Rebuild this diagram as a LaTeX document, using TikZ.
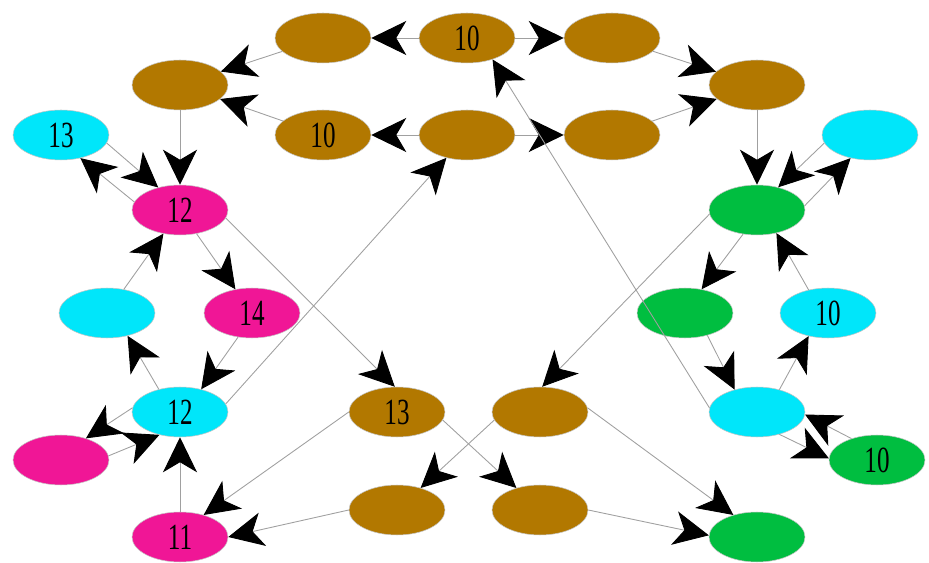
\documentclass[tikz,border=0pt]{standalone}
\usepackage{fontspec}
\setmainfont{Liberation Serif}
\usetikzlibrary{arrows.meta,shapes.geometric}
\definecolor{nbrown}{RGB}{178,120,0}
\definecolor{ncyan}{RGB}{0,230,250}
\definecolor{npink}{RGB}{240,22,150}
\definecolor{ngreen}{RGB}{0,190,64}
\definecolor{edgegray}{RGB}{160,160,160}
\newcommand{\lbl}[1]{\scalebox{0.68}[1]{#1}}
\tikzset{
  blob/.style={ellipse,minimum width=1.92cm,minimum height=1cm,inner sep=0pt,
    draw=gray!45,line width=0.3pt,font=\fontsize{21}{22}\selectfont},
  bn/.style={blob,fill=nbrown},
  cn/.style={blob,fill=ncyan},
  pn/.style={blob,fill=npink},
  gn/.style={blob,fill=ngreen},
  link/.style={draw=edgegray,line width=0.5pt,
    -{Stealth[length=7mm,width=6.8mm,inset=2mm,color=black,fill=black]}}
}
\begin{document}
\begin{tikzpicture}[x=0.02cm,y=-0.02cm]
\useasboundingbox (0,0) rectangle (929,563);
% upper brown ring
\node[bn] (t1) at (323,38) {};
\node[bn] (t2) at (467,38) {\lbl{10}};
\node[bn] (t3) at (612,38) {};
\node[bn] (l)  at (180,85) {};
\node[bn] (r)  at (757,85) {};
\node[bn] (m1) at (323,135) {\lbl{10}};
\node[bn] (m2) at (467,135) {};
\node[bn] (m3) at (612,135) {};
% left cluster
\node[cn] (cy13) at (61,135) {\lbl{13}};
\node[pn] (pk12) at (180,210) {\lbl{12}};
\node[cn] (cyl)  at (107,313) {};
\node[pn] (pk14) at (252,313) {\lbl{14}};
\node[cn] (cy12) at (180,412) {\lbl{12}};
\node[pn] (pkb)  at (61,460) {};
\node[pn] (pk11) at (180,537) {\lbl{11}};
% right cluster
\node[cn] (cyrt) at (870,135) {};
\node[gn] (gu)   at (757,210) {};
\node[gn] (gl)   at (685,313) {};
\node[cn] (cy10) at (828,313) {\lbl{10}};
\node[cn] (cyr)  at (757,412) {};
\node[gn] (gr10) at (877,460) {\lbl{10}};
\node[gn] (gb)   at (757,537) {};
% lower brown nodes
\node[bn] (br13) at (397,412) {\lbl{13}};
\node[bn] (brm)  at (540,412) {};
\node[bn] (bb1)  at (397,510) {};
\node[bn] (bb2)  at (540,510) {};

% upper ring edges
\draw[link] (t2) -- (t1);
\draw[link] (t2) -- (t3);
\draw[link] (t1) -- (l);
\draw[link] (t3) -- (r);
\draw[link] (m1) -- (l);
\draw[link] (m2) -- (m1);
\draw[link] (m2) -- (m3);
\draw[link] (m3) -- (r);
\draw[link] (l) -- (pk12);
\draw[link] (r) -- (gu);
% left cluster edges
\draw[link] (cy13.-10) -- (pk12.134);
\draw[link] (pk12.170) -- (cy13.-50);
\draw[link] (pk12) -- (pk14);
\draw[link] (cyl) -- (pk12.-125);
\draw[link] (pk12.-10) -- (br13.95);
\draw[link] (cy12.133) -- (cyl.-48);
\draw[link] (pk14.-120) -- (cy12.47);
\draw[link] (cy12.10) -- (m2.-132);
\draw[link] (cy12.175) -- (pkb.41);
\draw[link] (pkb.5) -- (cy12.-132);
\draw[link] (pk11) -- (cy12);
\draw[link] (br13.west) -- (pk11.43);
\draw[link] (bb1.west) -- (pk11.east);
% middle crossings
\draw[link] (br13.-10) -- (bb2.137);
\draw[link] (brm.190) -- (bb1.43);
\draw[link] (gu.185) -- (brm.85);
\draw[link] (brm.5) -- (gb.137);
\draw[link] (bb2.east) -- (gb.178);
\draw[link] (cyr.175) -- (t2.-40);
% right cluster edges
\draw[link] (gu.-120) -- (gl.55);
\draw[link] (cy10.130) -- (gu.-50);
\draw[link] (cyrt.190) -- (gu.47);
\draw[link] (gu.5) -- (cyrt.-130);
\draw[link] (gl.-45) -- (cyr.135);
\draw[link] (cyr.45) -- (cy10.-130);
\draw[link] (gr10.140) -- (cyr.-3);
\draw[link] (cyr.-45) -- (gr10.178);
\end{tikzpicture}
\end{document}
